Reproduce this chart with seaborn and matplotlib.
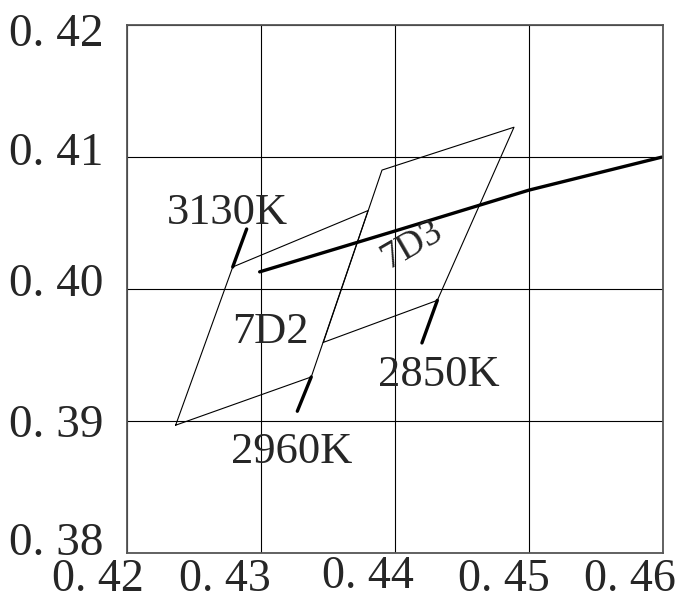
import matplotlib
matplotlib.use("Agg")
import matplotlib.pyplot as plt
import matplotlib.transforms as mtransforms
import seaborn as sns
import pandas as pd

# ANSI sub-bin corners (CIE 1931 x, y), closed polygons
bin_7d2_x = [0.42363, 0.42789, 0.43799, 0.43375, 0.42363]
bin_7d2_y = [0.38967, 0.40167, 0.40595, 0.39333, 0.38967]
bin_7d3_x = [0.43465, 0.43903, 0.44888, 0.44316, 0.43465]
bin_7d3_y = [0.39595, 0.40902, 0.41227, 0.39914, 0.39595]

# black body locus segment
locus_x = [0.4299, 0.440, 0.450, 0.4599]
locus_y = [0.4013, 0.4044, 0.4075, 0.4100]

# CCT tick marks (start, end)
cct_names = ["3130K", "2960K", "2850K"]
cct_x0 = [0.42789, 0.43375, 0.44316]
cct_y0 = [0.40167, 0.39333, 0.39914]
cct_x1 = [0.42893, 0.43271, 0.44201]
cct_y1 = [0.40455, 0.39073, 0.39591]
cct_lab_x = [0.42750, 0.43228, 0.44325]
cct_lab_y = [0.40580, 0.38765, 0.39350]

bin_names = ["7D2", "7D3"]
bin_lab_x = [0.43067, 0.44125]
bin_lab_y = [0.39677, 0.40336]
bin_lab_rot = [0, 30]

xticks = [0.42, 0.43, 0.44, 0.45, 0.46]
yticks = [0.38, 0.39, 0.40, 0.41, 0.42]
xlabels = ["0. 42", "0. 43", "0. 44", "0. 45", "0. 46"]
ylabels = ["0. 38", "0. 39", "0. 40", "0. 41", "0. 42"]

sns.set_style("white")
plt.rcParams['font.family'] = ['Liberation Serif', 'DejaVu Serif']

fig = plt.figure(figsize=(6.81, 6.14), dpi=100)
ax = fig.add_axes([127 / 681, 61.3 / 614, 536 / 681, 527.4 / 614])

for bx, by in [(bin_7d2_x, bin_7d2_y), (bin_7d3_x, bin_7d3_y)]:
    sns.lineplot(x=bx, y=by, sort=False, estimator=None, color='black',
                 linewidth=0.8, ax=ax)

sns.lineplot(x=locus_x, y=locus_y, sort=False, estimator=None, color='black',
             linewidth=2.4, ax=ax)

for i in range(len(cct_names)):
    sns.lineplot(x=[cct_x0[i], cct_x1[i]], y=[cct_y0[i], cct_y1[i]], sort=False,
                 estimator=None, color='black', linewidth=2.4, ax=ax)
    ax.text(cct_lab_x[i], cct_lab_y[i], cct_names[i], fontsize=32,
            ha='center', va='center')

for i in range(len(bin_names)):
    ax.text(bin_lab_x[i], bin_lab_y[i], bin_names[i], fontsize=32 if i == 0 else 27,
            ha='center', va='center', rotation=bin_lab_rot[i],
            rotation_mode='anchor')

ax.set_xlim(0.42, 0.46)
ax.set_ylim(0.38, 0.42)
ax.set_xticks(xticks)
ax.set_yticks(yticks)
ax.set_xticklabels(xlabels, fontsize=33)
ax.set_yticklabels(ylabels, fontsize=34)
ax.tick_params(axis='x', length=0, pad=4)
ax.tick_params(axis='y', length=0, pad=17)
ax.grid(True, color='black', linewidth=0.8)
ax.set_axisbelow(True)
for s in ax.spines.values():
    s.set_color('#555555')
    s.set_linewidth(1.3)

# small hand offsets of the tick labels, in pixels
x_off = [-29, -36, -27, -25, -33]
x_voff = [0, 0, 3, 0, 0]
y_voff = [14, 0, 9, 8, -4]
for lab, dx, dy in zip(ax.get_xticklabels(), x_off, x_voff):
    lab.set_transform(lab.get_transform() +
                      mtransforms.ScaledTranslation(dx / 100, dy / 100, fig.dpi_scale_trans))
for lab, dy in zip(ax.get_yticklabels(), y_voff):
    lab.set_transform(lab.get_transform() +
                      mtransforms.ScaledTranslation(0, dy / 100, fig.dpi_scale_trans))

fig.savefig('out.png', dpi=100)
